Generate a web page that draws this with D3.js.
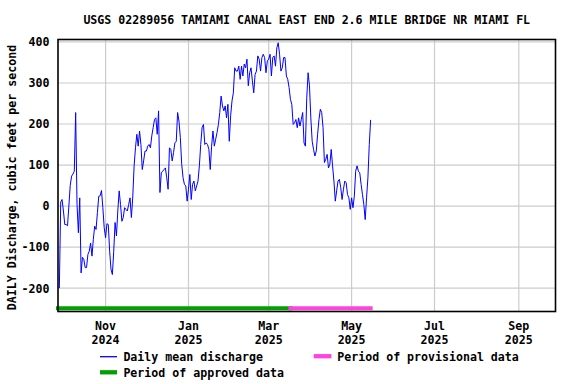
<!DOCTYPE html>
<html><head><meta charset="utf-8">
<script src="https://cdn.jsdelivr.net/npm/d3@7"></script>
<style>
body{margin:0;background:#fff}
text{font-family:"DejaVu Sans Mono",monospace;font-weight:bold;fill:#000}
</style>
</head><body><svg id="c" width="576" height="384"></svg>
<script>
const title = "USGS 02289056 TAMIAMI CANAL EAST END 2.6 MILE BRIDGE NR MIAMI FL";
const yLabel = "DAILY Discharge, cubic feet per second";
const startDate = "2024-09-28";
const discharge = [
  -200, 10, 16, -12, -45, -45, -48, 0, 50, 73,
  78, 85, 228, 4, -65, 20, -163, -125, -130, -150,
  -150, -118, -110, -90, -122, -81, -49, -57, -16, 24,
  25, 38, -4, -53,
  -77, -43, -45, -110, -154, -167,
  -110, -40, -73, -12, 37, 4, -37, -28, -4, -8,
  -12, 4, 20, -28, 22, 98, 142, 175, 146, 183,
  150, 89,
  110, 134, 134, 146, 150, 142, 171, 191,
  211, 215, 175, 232, 33, 81, 85, 89, 93, 69,
  41, 142, 138, 110, 130, 154, 158, 228, 207, 167,
  102, 69, 53, 49, 12, 41, 77, 16, 53, 61,
  37, 49, 61, 98,
  150, 191, 199, 150, 154, 150, 138, 89, 146, 183,
  146, 163, 179, 199, 228, 268, 244, 232, 244, 215,
  248, 158, 220, 256,
  276, 337, 329, 329, 341, 309, 341, 317, 346, 337,
  358, 293, 325, 337, 305, 276, 321, 329, 366, 358,
  329, 362, 370, 362, 325, 354, 358, 370, 317, 362,
  366, 341, 386,
  398, 370, 329, 337, 362, 362, 317, 309, 289,
  260, 248, 199, 203, 211, 191, 215, 195, 211, 228,
  154, 146, 264, 325, 293, 215, 158, 138, 122, 134,
  175, 211, 236,
  228, 191, 106, 114, 126, 93, 102, 138, 98,
  61, 12, 37, 61, 65, 45, 16, 41, 61, 57,
  28, 20, -8, 20, -4, 24, 85, 98, 85, 81,
  53, 28, 4, -33, 20, 69, 150, 210
];
const yTicks = [-200, -100, 0, 100, 200, 300, 400];
const xTickDates = ["2024-11-01","2025-01-01","2025-03-01","2025-05-01","2025-07-01","2025-09-01"];
const xTickMonths = ["Nov","Jan","Mar","May","Jul","Sep"];
const xTickYears = ["2024","2025","2025","2025","2025","2025"];
const xDomain = ["2024-09-27","2025-09-28"];
const yDomain = [-257, 406];
const approvedPeriod = ["2024-09-27","2025-03-17"];
const provisionalPeriod = ["2025-03-17","2025-05-15"];
const legendLabels = ["Daily mean discharge","Period of provisional data","Period of approved data"];
const colors = {line:"#0000ff", approved:"#00a000", provisional:"#ff44dd", grid:"#cccccc"};

const parse = d3.utcParse("%Y-%m-%d");
const start = parse(startDate);
const series = discharge.map((v,i)=>({date:d3.utcDay.offset(start,i), value:v}));

const L=58, R=555.5, T=39.5, B=311.5;
const x = d3.scaleUtc().domain(xDomain.map(parse)).range([L,R]);
const y = d3.scaleLinear().domain(yDomain).range([B,T]);
const svg = d3.select("#c");

// grid
svg.append("g").selectAll("line").data(yTicks).join("line")
  .attr("x1",L).attr("x2",R).attr("y1",d=>y(d)).attr("y2",d=>y(d))
  .attr("stroke",colors.grid).attr("stroke-width",1.2);
svg.append("g").selectAll("line").data(xTickDates).join("line")
  .attr("x1",d=>x(parse(d))).attr("x2",d=>x(parse(d))).attr("y1",T).attr("y2",B)
  .attr("stroke",colors.grid).attr("stroke-width",1.2);

// period bars
const barY = B-3.3;
svg.append("line").attr("x1",x(parse(approvedPeriod[0]))).attr("x2",x(parse(approvedPeriod[1])))
  .attr("y1",barY).attr("y2",barY).attr("stroke",colors.approved).attr("stroke-width",4).attr("stroke-linecap","square");
svg.append("line").attr("x1",x(parse(provisionalPeriod[0]))).attr("x2",x(parse(provisionalPeriod[1])))
  .attr("y1",barY).attr("y2",barY).attr("stroke",colors.provisional).attr("stroke-width",4).attr("stroke-linecap","square");

// data line
svg.append("path").datum(series)
  .attr("d", d3.line().x(d=>x(d.date)).y(d=>y(d.value)))
  .attr("fill","none").attr("stroke",colors.line).attr("stroke-width",1);

// frame
svg.append("rect").attr("x",L).attr("y",T).attr("width",R-L).attr("height",B-T)
  .attr("fill","none").attr("stroke","#000").attr("stroke-width",1.6);

// y tick labels
svg.append("g").selectAll("text").data(yTicks).join("text")
  .attr("x",L-8.5).attr("y",d=>y(d)+4.4).attr("text-anchor","end")
  .style("font-size","11.6px").text(d=>d);

// x tick labels
const xl = svg.append("g").selectAll("g").data(xTickDates).join("g");
xl.append("text").attr("x",d=>x(parse(d))).attr("y",330.3).attr("text-anchor","middle")
  .style("font-size","11.6px").text((d,i)=>xTickMonths[i]);
xl.append("text").attr("x",d=>x(parse(d))).attr("y",343.5).attr("text-anchor","middle")
  .style("font-size","11.6px").text((d,i)=>xTickYears[i]);

// title
svg.append("text").attr("x",(L+R)/2).attr("y",24).attr("text-anchor","middle")
  .style("font-size","11.6px").text(title);

// y label
svg.append("text").attr("transform",`translate(15.5,${(T+B)/2 + 2}) rotate(-90)`)
  .attr("text-anchor","middle").style("font-size","11.6px").text(yLabel);

// legend
const lg = svg.append("g");
lg.append("line").attr("x1",100).attr("x2",117).attr("y1",356.7).attr("y2",356.7)
  .attr("stroke",colors.line).attr("stroke-width",1.3);
lg.append("text").attr("x",123.4).attr("y",361.3).style("font-size","11.6px").text(legendLabels[0]);
lg.append("line").attr("x1",313.7).attr("x2",331.4).attr("y1",356.2).attr("y2",356.2)
  .attr("stroke",colors.provisional).attr("stroke-width",4.3);
lg.append("text").attr("x",337.3).attr("y",361.3).style("font-size","11.6px").text(legendLabels[1]);
lg.append("line").attr("x1",100).attr("x2",117).attr("y1",372.3).attr("y2",372.3)
  .attr("stroke",colors.approved).attr("stroke-width",4.3);
lg.append("text").attr("x",123.4).attr("y",377.3).style("font-size","11.6px").text(legendLabels[2]);
</script>
</body></html>
